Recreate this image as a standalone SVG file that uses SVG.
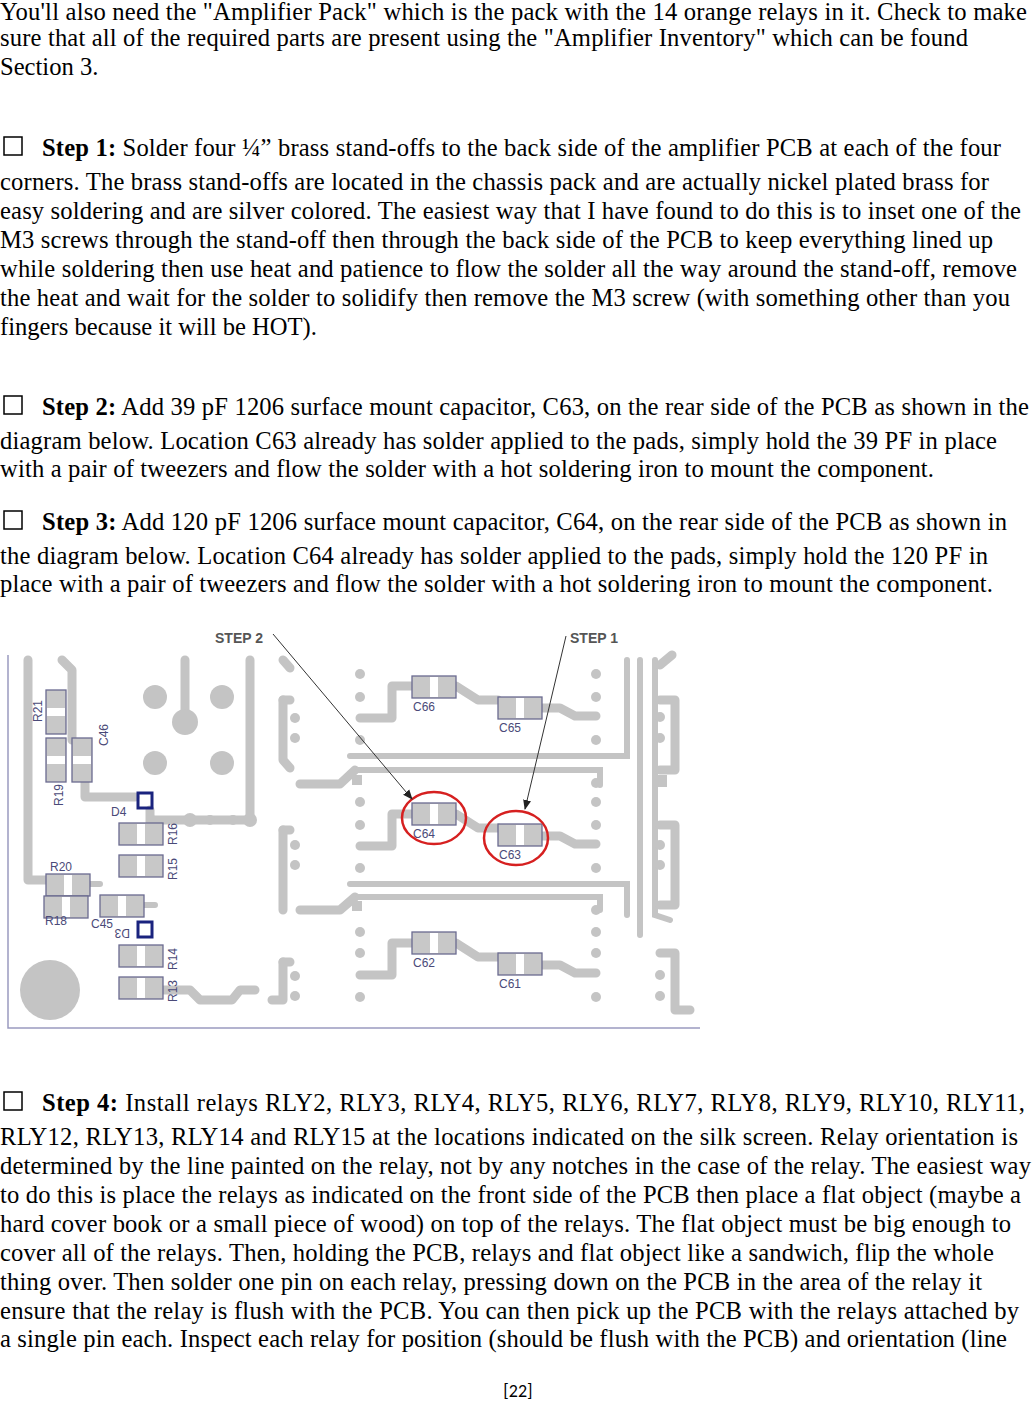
<svg xmlns="http://www.w3.org/2000/svg" width="1032" height="1402" viewBox="0 0 1032 1402">
<style>
.t{font-family:"Liberation Serif","Times New Roman",serif;font-size:24.6px;fill:#000}
.b{font-weight:bold}
.cb{fill:none;stroke:#000;stroke-width:1.5}
.tr{fill:none;stroke:#c4c4c4;stroke-width:9;stroke-linecap:round;stroke-linejoin:round}
.tn{fill:none;stroke:#c4c4c4;stroke-width:6;stroke-linecap:round}
.pad{fill:#c4c4c4}
.cmp{fill:#c8c8c8;stroke:#6a6a90;stroke-width:1.3}
.gap{fill:#fff}
.lb{font-family:"Liberation Sans",Arial,sans-serif;font-size:12px;fill:#4a4a78}
.st{font-family:"Liberation Sans",Arial,sans-serif;font-size:14px;font-weight:bold;fill:#555}
.dio{fill:none;stroke:#1a237e;stroke-width:3}
.ring{fill:none;stroke:#d62020;stroke-width:2.5}
</style>
<defs>
<marker id="ah" markerWidth="10" markerHeight="10" refX="9" refY="5" orient="auto" markerUnits="userSpaceOnUse"><path d="M0,1 L10,5 L0,9 z" fill="#222"/></marker>
<g id="cmpH"><rect class="cmp" x="0" y="0" width="44" height="22"/><rect class="gap" x="18" y="1" width="8" height="20"/></g>
<g id="cmpV"><rect class="cmp" x="0" y="0" width="20" height="44"/><rect class="gap" x="1" y="18" width="18" height="8"/></g>
</defs>
<g id="text">
<text class="t" x="0" y="20" textLength="1027" lengthAdjust="spacing">You'll also need the "Amplifier Pack" which is the pack with the 14 orange relays in it. Check to make</text>
<text class="t" x="0" y="46" textLength="968" lengthAdjust="spacing">sure that all of the required parts are present using the "Amplifier Inventory" which can be found</text>
<text class="t" x="0" y="75">Section 3.</text>
<rect class="cb" x="4" y="137" width="18" height="18"/>
<text class="t" x="42" y="156" textLength="959" lengthAdjust="spacing"><tspan class="b">Step 1:</tspan> Solder four ¼” brass stand-offs to the back side of the amplifier PCB at each of the four</text>
<text class="t" x="0" y="190" textLength="989" lengthAdjust="spacing">corners. The brass stand-offs are located in the chassis pack and are actually nickel plated brass for</text>
<text class="t" x="0" y="219" textLength="1021" lengthAdjust="spacing">easy soldering and are silver colored. The easiest way that I have found to do this is to inset one of the</text>
<text class="t" x="0" y="248" textLength="993" lengthAdjust="spacing">M3 screws through the stand-off then through the back side of the PCB to keep everything lined up</text>
<text class="t" x="0" y="277" textLength="1017" lengthAdjust="spacing">while soldering then use heat and patience to flow the solder all the way around the stand-off, remove</text>
<text class="t" x="0" y="306" textLength="1010" lengthAdjust="spacing">the heat and wait for the solder to solidify then remove the M3 screw (with something other than you</text>
<text class="t" x="0" y="335">fingers because it will be HOT).</text>
<rect class="cb" x="4" y="396" width="18" height="18"/>
<text class="t" x="42" y="415" textLength="987" lengthAdjust="spacing"><tspan class="b">Step 2:</tspan> Add 39 pF 1206 surface mount capacitor, C63, on the rear side of the PCB as shown in the</text>
<text class="t" x="0" y="449" textLength="997" lengthAdjust="spacing">diagram below. Location C63 already has solder applied to the pads, simply hold the 39 PF in place</text>
<text class="t" x="0" y="477" textLength="934" lengthAdjust="spacing">with a pair of tweezers and flow the solder with a hot soldering iron to mount the component.</text>
<rect class="cb" x="4" y="511" width="18" height="18"/>
<text class="t" x="42" y="530" textLength="965" lengthAdjust="spacing"><tspan class="b">Step 3:</tspan> Add 120 pF 1206 surface mount capacitor, C64, on the rear side of the PCB as shown in</text>
<text class="t" x="0" y="564" textLength="988" lengthAdjust="spacing">the diagram below. Location C64 already has solder applied to the pads, simply hold the 120 PF in</text>
<text class="t" x="0" y="592" textLength="993" lengthAdjust="spacing">place with a pair of tweezers and flow the solder with a hot soldering iron to mount the component.</text>
<rect class="cb" x="4" y="1092" width="18" height="18"/>
<text class="t" x="42" y="1111" textLength="983" lengthAdjust="spacing"><tspan class="b">Step 4:</tspan> Install relays RLY2, RLY3, RLY4, RLY5, RLY6, RLY7, RLY8, RLY9, RLY10, RLY11,</text>
<text class="t" x="0" y="1145" textLength="1018" lengthAdjust="spacing">RLY12, RLY13, RLY14 and RLY15 at the locations indicated on the silk screen. Relay orientation is</text>
<text class="t" x="0" y="1174" textLength="1031" lengthAdjust="spacing">determined by the line painted on the relay, not by any notches in the case of the relay. The easiest way</text>
<text class="t" x="0" y="1203" textLength="1021" lengthAdjust="spacing">to do this is place the relays as indicated on the front side of the PCB then place a flat object (maybe a</text>
<text class="t" x="0" y="1232" textLength="1011" lengthAdjust="spacing">hard cover book or a small piece of wood) on top of the relays. The flat object must be big enough to</text>
<text class="t" x="0" y="1261" textLength="994" lengthAdjust="spacing">cover all of the relays. Then, holding the PCB, relays and flat object like a sandwich, flip the whole</text>
<text class="t" x="0" y="1290" textLength="982" lengthAdjust="spacing">thing over. Then solder one pin on each relay, pressing down on the PCB in the area of the relay it</text>
<text class="t" x="0" y="1319" textLength="1019" lengthAdjust="spacing">ensure that the relay is flush with the PCB.  You can then pick up the PCB with the relays attached by</text>
<text class="t" x="0" y="1347" textLength="1007" lengthAdjust="spacing">a single pin each. Inspect each relay for position (should be flush with the PCB) and orientation (line</text>
<text x="518" y="1397" text-anchor="middle" style="font-family:Carlito,'Liberation Sans',sans-serif;font-size:18px">[22]</text>
</g>
<g id="pcb">
<path d="M8,655 V1028 H700" fill="none" stroke="#9a9ac0" stroke-width="1.5"/>
<g id="traces">
<path class="tr" d="M28,660 V880 H46"/>
<path class="tr" d="M62,660 L72,670 V740"/>
<path class="tr" d="M185,660 V720"/>
<path class="tr" d="M250,660 V820"/>
<path class="tr" d="M85,782 V797 H135"/>
<path class="tr" d="M150,810 V825 M155,820 H250"/>
<path class="tn" d="M90,884 H100 M143,905 H155"/>
<path class="tr" d="M163,990 H190 L200,1000 H232 L240,990 H255"/>
<path class="tr" d="M283,660 L290,668 M283,700 V760 L290,768 M283,830 V910 M283,962 V1000 L272,1000"/>
<path class="tr" d="M290,700 H283 M290,830 H283 M290,962 H283"/>
<path class="tr" d="M300,784 H340 L355,770 M300,910 H340 L355,897"/>
<path class="tn" d="M350,756 H627 V660 M358,770 H600 V785 M350,884 H627 V915 M358,897 H600 V910"/>
<path class="tn" d="M640,660 V935 M655,660 V915 L670,920"/>
<path class="tr" d="M360,718 H392 V686 H412 M456,686 L478,700 H498 M542,708 H560 L575,716 H596"/>
<path class="tr" d="M360,846 H392 V814 H412 M456,814 L478,828 H498 M542,836 H560 L575,844 H596"/>
<path class="tr" d="M360,975 H392 V943 H412 M456,943 L478,957 H498 M542,965 H560 L575,973 H596"/>
<path class="tr" d="M660,665 L672,655 M660,700 H675 V770 H660 M660,825 H675 V905 H660 M660,953 H675 V1010 H690"/>
</g>
<g id="pads">
<circle class="pad" cx="155" cy="697" r="12"/><circle class="pad" cx="222" cy="697" r="12"/><circle class="pad" cx="185" cy="722" r="13"/>
<circle class="pad" cx="155" cy="763" r="12"/><circle class="pad" cx="222" cy="763" r="12"/>
<circle class="pad" cx="190" cy="820" r="7"/><circle class="pad" cx="210" cy="820" r="5"/><circle class="pad" cx="233" cy="820" r="5"/><circle class="pad" cx="250" cy="820" r="7"/>
<circle class="pad" cx="50" cy="990" r="30"/>
<circle class="pad" cx="295" cy="718" r="5"/><circle class="pad" cx="295" cy="738" r="5"/><circle class="pad" cx="295" cy="845" r="5"/><circle class="pad" cx="295" cy="865" r="5"/><circle class="pad" cx="295" cy="976" r="5"/><circle class="pad" cx="295" cy="996" r="5"/>
<circle class="pad" cx="360" cy="674" r="5"/><circle class="pad" cx="360" cy="697" r="5"/><circle class="pad" cx="360" cy="740" r="5"/><circle class="pad" cx="360" cy="802" r="5"/><circle class="pad" cx="360" cy="825" r="5"/><circle class="pad" cx="360" cy="868" r="5"/><circle class="pad" cx="360" cy="932" r="5"/><circle class="pad" cx="360" cy="953" r="5"/><circle class="pad" cx="360" cy="997" r="5"/>
<circle class="pad" cx="596" cy="674" r="5"/><circle class="pad" cx="596" cy="697" r="5"/><circle class="pad" cx="596" cy="740" r="5"/><circle class="pad" cx="596" cy="783" r="5"/><circle class="pad" cx="596" cy="802" r="5"/><circle class="pad" cx="596" cy="825" r="5"/><circle class="pad" cx="596" cy="868" r="5"/><circle class="pad" cx="596" cy="910" r="5"/><circle class="pad" cx="596" cy="932" r="5"/><circle class="pad" cx="596" cy="953" r="5"/><circle class="pad" cx="596" cy="997" r="5"/>
<circle class="pad" cx="660" cy="717" r="5"/><circle class="pad" cx="660" cy="738" r="5"/><circle class="pad" cx="660" cy="845" r="5"/><circle class="pad" cx="660" cy="865" r="5"/><circle class="pad" cx="660" cy="975" r="5"/><circle class="pad" cx="660" cy="996" r="5"/>
<rect class="pad" x="352" y="775" width="10" height="10"/><rect class="pad" x="352" y="901" width="10" height="10"/><rect class="pad" x="655" y="775" width="12" height="12"/>
</g>
<g id="components">
<use href="#cmpV" x="46" y="690"/><text class="lb" transform="translate(42,722) rotate(-90)">R21</text>
<use href="#cmpV" x="46" y="738"/><text class="lb" transform="translate(63,806) rotate(-90)">R19</text>
<use href="#cmpV" x="72" y="738"/><text class="lb" transform="translate(108,746) rotate(-90)">C46</text>
<rect class="dio" x="138" y="793" width="14" height="15"/><text class="lb" x="111" y="816">D4</text>
<use href="#cmpH" x="119" y="823"/><text class="lb" transform="translate(177,845) rotate(-90)">R16</text>
<use href="#cmpH" x="119" y="855"/><text class="lb" transform="translate(177,880) rotate(-90)">R15</text>
<use href="#cmpH" x="46" y="874"/><text class="lb" x="50" y="871">R20</text>
<use href="#cmpH" x="44" y="896"/><text class="lb" x="45" y="925">R18</text>
<use href="#cmpH" x="100" y="895"/><text class="lb" x="91" y="928">C45</text>
<rect class="dio" x="138" y="922" width="14" height="15"/><text class="lb" transform="translate(130,929) rotate(180)">D3</text>
<use href="#cmpH" x="119" y="945"/><text class="lb" transform="translate(177,970) rotate(-90)">R14</text>
<use href="#cmpH" x="119" y="977"/><text class="lb" transform="translate(177,1002) rotate(-90)">R13</text>
<use href="#cmpH" x="412" y="676"/><text class="lb" x="413" y="711">C66</text>
<use href="#cmpH" x="498" y="697"/><text class="lb" x="499" y="732">C65</text>
<use href="#cmpH" x="412" y="803"/><text class="lb" x="413" y="838">C64</text>
<use href="#cmpH" x="498" y="824"/><text class="lb" x="499" y="859">C63</text>
<use href="#cmpH" x="412" y="932"/><text class="lb" x="413" y="967">C62</text>
<use href="#cmpH" x="498" y="953"/><text class="lb" x="499" y="988">C61</text>
<ellipse class="ring" cx="434" cy="818" rx="32" ry="26"/>
<ellipse class="ring" cx="516" cy="838" rx="32" ry="27"/>
</g>
<g id="connectors">
<line x1="273" y1="634" x2="412" y2="799" stroke="#333" stroke-width="1" marker-end="url(#ah)"/>
<line x1="566" y1="636" x2="525" y2="809" stroke="#333" stroke-width="1" marker-end="url(#ah)"/>
</g>
<text class="st" x="215" y="643">STEP 2</text>
<text class="st" x="570" y="643">STEP 1</text>
</g>
</svg>
